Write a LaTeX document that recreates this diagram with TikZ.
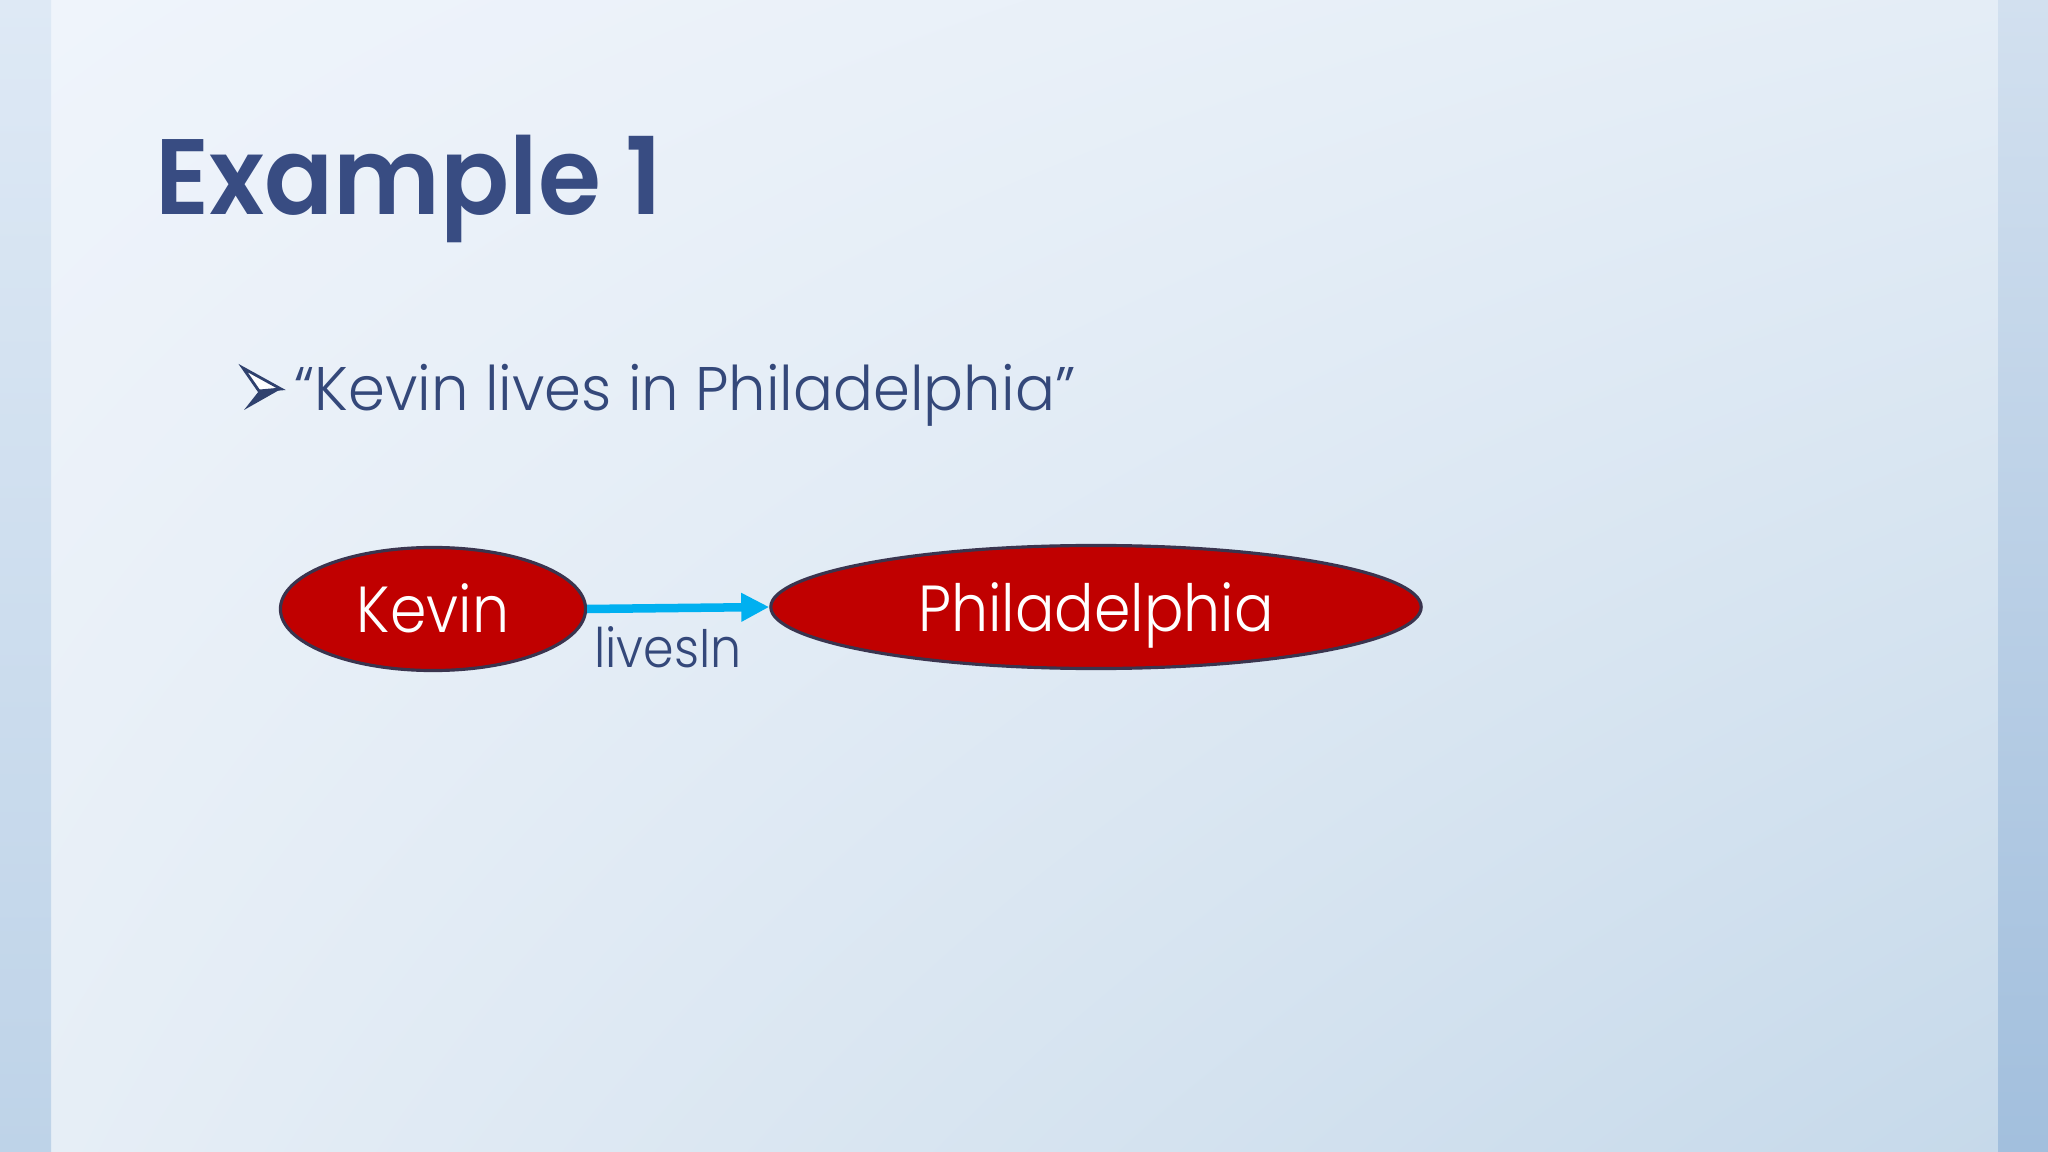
\documentclass[tikz,border=0pt]{standalone}
\usepackage{fontspec}
\setmainfont{Poppins}
\newfontfamily\lightfont{Poppins}[UprightFont=* Light]
\newfontfamily\titlefont{Poppins}[UprightFont=* SemiBold]
\usetikzlibrary{shapes.geometric,arrows.meta,shadings}
\definecolor{titleblue}{RGB}{56,76,130}
\definecolor{textblue}{RGB}{52,72,122}
\definecolor{nodered}{RGB}{192,0,0}
\definecolor{nodeedge}{RGB}{58,52,78}
\definecolor{edgeblue}{RGB}{0,176,240}
\definecolor{bgA}{RGB}{239,244,251}
\definecolor{bgB}{RGB}{228,237,246}
\definecolor{bgC}{RGB}{230,238,246}
\definecolor{bgD}{RGB}{198,217,234}
\definecolor{lsA}{RGB}{222,233,245}
\definecolor{lsB}{RGB}{190,211,232}
\definecolor{rsA}{RGB}{210,224,239}
\definecolor{rsB}{RGB}{162,191,221}
\tikzset{
  entity/.style={ellipse, draw=nodeedge, line width=0.9pt, fill=nodered, inner sep=0pt,
    text=white, text height=0.48cm, text depth=0cm,
    font=\lightfont\fontsize{18.5pt}{22pt}\selectfont},
  entitytext/.style={inner sep=0pt, text=white, xscale=0.9,
    font=\lightfont\fontsize{18.5pt}{22pt}\selectfont},
  relation/.style={-{Triangle[length=0.28cm,width=0.27cm]}, draw=edgeblue, line width=0.085cm},
  bodytext/.style={text=textblue, inner sep=0pt, font=\lightfont\fontsize{17.5pt}{21pt}\selectfont}
}
\begin{document}
\begin{tikzpicture}[x=0.01cm,y=-0.01cm]
\useasboundingbox (0,0) rectangle (2048,1152);
% background
\shade[upper left=bgA, upper right=bgB, lower left=bgC, lower right=bgD] (51,0) rectangle (1998,1152);
\shade[top color=lsA, bottom color=lsB] (0,0) rectangle (51,1152);
\shade[top color=rsA, bottom color=rsB] (1998,0) rectangle (2048,1152);
% title
\node[anchor=base west, inner sep=0pt, text=titleblue, xscale=0.95, font=\titlefont\fontsize{30.5pt}{36pt}\selectfont] (title) at (155,215) {Example 1};
% bullet
\coordinate (btip) at (281,389);
\fill[textblue!90!black] (btip) -- (244,410) -- (259,391) -- cycle;
\draw[textblue!90!black, fill=white, line width=0.8pt, line join=miter] (243,368) -- (btip) -- (259,391) -- cycle;
\node[bodytext, anchor=base west, xscale=0.963] (bullet) at (294,411) {“Kevin lives in Philadelphia”};
% graph
\node[entity, minimum width=3.05cm, minimum height=1.23cm] (kevin) at (433,609) {};
\node[entity, minimum width=6.5cm, minimum height=1.23cm] (phil) at (1096,607) {};
\node[entitytext, anchor=base] (kevint) at (433,633) {Kevin};
\node[entitytext, anchor=base] (philt) at (1096,631) {Philadelphia};
\draw[relation] (kevin.east) -- (phil.west);
\node[bodytext, anchor=base, xscale=0.9, font=\lightfont\fontsize{15.5pt}{19pt}\selectfont] (rel) at (668,667) {livesIn};
\end{tikzpicture}
\end{document}
